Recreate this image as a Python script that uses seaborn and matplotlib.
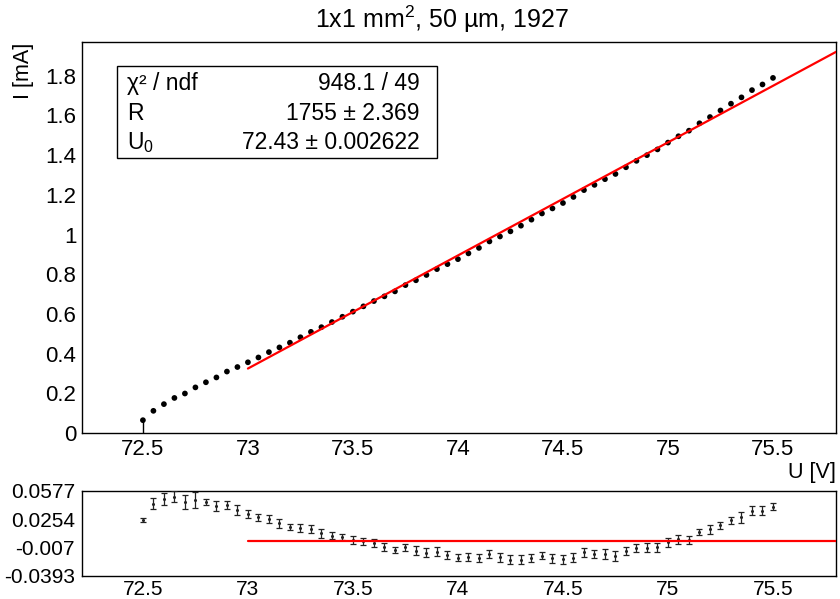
import numpy as np
import matplotlib
matplotlib.use("Agg")
import matplotlib.pyplot as plt
import seaborn as sns
from matplotlib.ticker import MultipleLocator, FixedLocator
from matplotlib.patches import Rectangle

sns.set_theme(style="white")
plt.rcParams['font.family'] = ['Liberation Sans', 'DejaVu Sans']
plt.rcParams['mathtext.fontset'] = 'custom'
plt.rcParams['mathtext.rm'] = 'Liberation Sans'
plt.rcParams['mathtext.it'] = 'Liberation Sans:italic'
plt.rcParams['mathtext.bf'] = 'Liberation Sans:bold'

# ---------------- data ----------------
voltage = [72.50, 72.55, 72.60, 72.65, 72.70, 72.75, 72.80, 72.85, 72.90, 72.95,
           73.00, 73.05, 73.10, 73.15, 73.20, 73.25, 73.30, 73.35, 73.40, 73.45,
           73.50, 73.55, 73.60, 73.65, 73.70, 73.75, 73.80, 73.85, 73.90, 73.95,
           74.00, 74.05, 74.10, 74.15, 74.20, 74.25, 74.30, 74.35, 74.40, 74.45,
           74.50, 74.55, 74.60, 74.65, 74.70, 74.75, 74.80, 74.85, 74.90, 74.95,
           75.00, 75.05, 75.10, 75.15, 75.20, 75.25, 75.30, 75.35, 75.40, 75.45,
           75.50]
current = [0.0646, 0.1117, 0.1455, 0.1766, 0.1990, 0.2298, 0.2556, 0.2799, 0.3096, 0.3324,
           0.3563, 0.3806, 0.4076, 0.4312, 0.4550, 0.4824, 0.5097, 0.5332, 0.5591, 0.5857,
           0.6115, 0.6382, 0.6647, 0.6886, 0.7136, 0.7451, 0.7695, 0.7961, 0.8257, 0.8508,
           0.8759, 0.9051, 0.9325, 0.9652, 0.9901, 1.0160, 1.0445, 1.0749, 1.1061, 1.1315,
           1.1588, 1.1893, 1.2238, 1.2501, 1.2789, 1.3051, 1.3389, 1.3712, 1.3999, 1.4289,
           1.4632, 1.4951, 1.5232, 1.5605, 1.5919, 1.6250, 1.6592, 1.6911, 1.7276, 1.7561,
           1.7891]
residual = [0.0247, 0.0433, 0.0486, 0.0513, 0.0452, 0.0475, 0.0448, 0.0406, 0.0418, 0.0361,
            0.0315, 0.0273, 0.0258, 0.0209, 0.0163, 0.0152, 0.0140, 0.0090, 0.0064, 0.0045,
            0.0018, 0.0000, -0.0020, -0.0066, -0.0100, -0.0070, -0.0111, -0.0130, -0.0119, -0.0153,
            -0.0187, -0.0180, -0.0191, -0.0149, -0.0184, -0.0210, -0.0210, -0.0191, -0.0164, -0.0195,
            -0.0207, -0.0187, -0.0127, -0.0149, -0.0145, -0.0168, -0.0115, -0.0077, -0.0075, -0.0070,
            -0.0012, 0.0022, 0.0018, 0.0106, 0.0136, 0.0182, 0.0239, 0.0273, 0.0353, 0.0353,
            0.0398]
residual_err = [0.0025, 0.0061, 0.0065, 0.0059, 0.0082, 0.0091, 0.0034, 0.0057, 0.0042, 0.0057,
                0.0044, 0.0044, 0.0044, 0.0051, 0.0036, 0.0048, 0.0046, 0.0055, 0.0042, 0.0036,
                0.0046, 0.0040, 0.0048, 0.0046, 0.0032, 0.0038, 0.0051, 0.0051, 0.0048, 0.0046,
                0.0044, 0.0048, 0.0042, 0.0048, 0.0051, 0.0050, 0.0050, 0.0046, 0.0044, 0.0051,
                0.0051, 0.0048, 0.0051, 0.0044, 0.0055, 0.0055, 0.0044, 0.0050, 0.0051, 0.0050,
                0.0050, 0.0050, 0.0048, 0.0034, 0.0053, 0.0042, 0.0036, 0.0059, 0.0050, 0.0050,
                0.0044]
first_point_low_err = 0.07

# fit parameters
fit_R = 1755.0          # Ohm
fit_U0 = 72.43          # V
fit_start = 73.0
fit_text = [("χ² / ndf", "948.1 / 49"),
            ("R", "1755 ± 2.369"),
            (r"U$_\mathrm{0}$", "72.43 ± 0.002622")]

res_ticks = [-0.0393, -0.007, 0.0254, 0.0577]
title = r"1x1 mm$^\mathrm{2}$, 50 µm, 1927"

# ---------------- layout ----------------
W, H = 840, 599
def fx(x):
    return x / W
def fy(y):
    return 1 - y / H

fig = plt.figure(figsize=(8.4, 5.99), dpi=100)
fig.patch.set_facecolor('white')
ax1 = fig.add_axes([fx(82), fy(433), (836 - 82) / W, (433 - 42) / H])
ax2 = fig.add_axes([fx(82), fy(575.5), (836 - 82) / W, (575.5 - 491) / H])

xlim = (72.21, 75.8)

# main panel
ax1.errorbar([voltage[0]], [current[0]], yerr=[[first_point_low_err], [0]],
             fmt='none', ecolor='black', elinewidth=1.0, capsize=0, zorder=2)
sns.scatterplot(x=voltage, y=current, ax=ax1, color='black', s=17,
                edgecolor='none', linewidth=0, zorder=3)
u_fit = np.linspace(fit_start, xlim[1], 50)
i_fit = (u_fit - fit_U0) / fit_R * 1000.0
sns.lineplot(x=u_fit, y=i_fit, ax=ax1, color='#ff0000', linewidth=1.6, zorder=4)

ax1.set_xlim(*xlim)
ax1.set_ylim(0, 1.97)
ax1.xaxis.set_major_locator(MultipleLocator(0.5))
ax1.xaxis.set_minor_locator(MultipleLocator(0.1))
ax1.yaxis.set_major_locator(MultipleLocator(0.2))
ax1.yaxis.set_minor_locator(MultipleLocator(0.04))
ax1.xaxis.set_major_formatter(matplotlib.ticker.FuncFormatter(lambda v, p: f"{v:g}"))
ax1.yaxis.set_major_formatter(matplotlib.ticker.FuncFormatter(lambda v, p: f"{v:g}"))
ax1.tick_params(axis='x', which='major', direction='in', length=8.6, width=0.8,
                labelsize=16, pad=4.5, color='black', labelcolor='black')
ax1.tick_params(axis='x', which='minor', direction='in', length=4.3, width=0.8, color='black')
ax1.tick_params(axis='y', which='major', direction='in', length=15, width=0.8,
                labelsize=16, pad=4, color='black', labelcolor='black')
ax1.tick_params(axis='y', which='minor', direction='in', length=7.5, width=0.8, color='black')
ax1.set_xlabel("")
ax1.set_ylabel("")

# residual panel
ax2.errorbar(voltage, residual, yerr=residual_err, fmt='o', ms=1.2, color='#222222',
             ecolor='#222222', elinewidth=0.9, capsize=2.2, capthick=0.9, zorder=3)
zero_x = [fit_start, xlim[1]]
sns.lineplot(x=zero_x, y=[0, 0], ax=ax2, color='#ff0000', linewidth=1.6, zorder=4)
ax2.set_xlim(*xlim)
ax2.set_ylim(res_ticks[0], res_ticks[-1])
ax2.yaxis.set_major_locator(FixedLocator(res_ticks))
ax2.yaxis.set_major_formatter(matplotlib.ticker.FuncFormatter(lambda v, p: f"{v:g}"))
ax2.xaxis.set_major_locator(MultipleLocator(0.5))
ax2.xaxis.set_minor_locator(MultipleLocator(0.1))
ax2.xaxis.set_major_formatter(matplotlib.ticker.FuncFormatter(lambda v, p: f"{v:g}"))
ax2.tick_params(axis='x', which='major', direction='in', length=3, width=0.8,
                labelsize=15, pad=3, color='black', labelcolor='black')
ax2.tick_params(axis='x', which='minor', direction='in', length=1.6, width=0.8, color='black')
ax2.tick_params(axis='y', which='major', direction='in', length=11, width=0.8,
                labelsize=15, pad=5, color='black', labelcolor='black')
ax2.set_xlabel("")
ax2.set_ylabel("")

for ax in (ax1, ax2):
    for sp in ax.spines.values():
        sp.set_visible(True)
        sp.set_color('black')
        sp.set_linewidth(1.0)
    ax.grid(False)
    legend = ax.get_legend()
    if legend is not None:
        legend.remove()

# stat box
box = Rectangle((fx(117), fy(158)), (437 - 117) / W, (158 - 66) / H,
                transform=fig.transFigure, facecolor='white', edgecolor='black',
                linewidth=1.0, zorder=5)
fig.patches.append(box)
for k, (name, val) in enumerate(fit_text):
    yb = [90, 120, 149][k]
    fig.text(fx(127), fy(yb), name, ha='left', va='baseline', fontsize=16.5,
             color='black', zorder=6)
    fig.text(fx(420), fy(yb), val, ha='right', va='baseline', fontsize=16.5,
             color='black', zorder=6)

# titles
fig.text(fx(442), fy(28), title, ha='center', va='baseline', fontsize=18, color='black')
fig.text(fx(24), fy(43), "I [mA]", rotation=90, ha='center', va='top', fontsize=15.5,
         color='black')
fig.text(fx(836), fy(462), "U [V]", ha='right', va='top', fontsize=15.5, color='black')

fig.savefig("out.png", dpi=100, facecolor='white')
